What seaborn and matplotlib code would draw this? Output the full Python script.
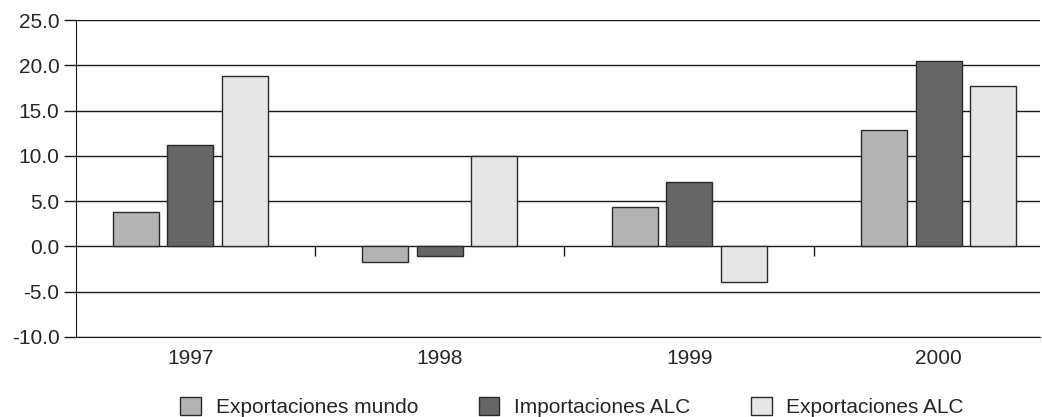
import matplotlib
matplotlib.use("Agg")
import matplotlib.pyplot as plt
import seaborn as sns
import pandas as pd
import numpy as np

years = ["1997", "1998", "1999", "2000"]
series = ["Exportaciones mundo", "Importaciones ALC", "Exportaciones ALC"]
exp_mundo = [3.8, -1.7, 4.4, 12.8]
imp_alc = [11.2, -1.1, 7.1, 20.5]
exp_alc = [18.8, 10.0, -3.9, 17.7]
colors = ["#b3b3b3", "#666666", "#e6e6e6"]
yticks = [-10.0, -5.0, 0.0, 5.0, 10.0, 15.0, 20.0, 25.0]

df = pd.DataFrame({
    "year": years * 3,
    "serie": [s for s in series for _ in years],
    "value": exp_mundo + imp_alc + exp_alc,
})

sns.set_style("white")
plt.rcParams["font.family"] = ["Liberation Sans", "DejaVu Sans"]
FS = 15

fig = plt.figure(figsize=(10.42, 4.17), dpi=100)
ax = fig.add_axes([0.073, 0.192, 0.925, 0.760])

for y in yticks:
    ax.axhline(y, color="#1a1a1a", lw=1.0, zorder=0)

sns.barplot(data=df, x="year", y="value", hue="serie", hue_order=series,
            order=years, palette=colors, width=0.654, gap=0.155,
            edgecolor="#2a2a2a", linewidth=1.0, ax=ax, legend=True, zorder=2)

ax.vlines(np.arange(len(years) - 1) + 0.5, -1.1, 0, color="#1a1a1a", lw=1.0)

ax.set_ylim(-10, 25)
ax.set_xlim(-0.458, 3.406)
ax.set_yticks(yticks)
ax.set_yticklabels([f"{v:.1f}" for v in yticks])
ax.set_xlabel("")
ax.set_ylabel("")
for s in ["top", "right"]:
    ax.spines[s].set_visible(False)
ax.spines["left"].set_color("#1a1a1a")
ax.spines["bottom"].set_color("#1a1a1a")
ax.tick_params(axis="y", left=True, length=9, width=1, color="#1a1a1a", pad=3, labelsize=FS)
ax.tick_params(axis="x", bottom=False, pad=5, labelsize=FS)

handles, labels = ax.get_legend_handles_labels()
ax.get_legend().remove()
fig.legend(handles, labels, loc="center", bbox_to_anchor=(0.549, 0.024), ncol=3,
           frameon=False, fontsize=FS, handlelength=1.0, handleheight=1.0,
           columnspacing=2.9, handletextpad=0.7, borderpad=0)

fig.savefig("out.png", dpi=100)
